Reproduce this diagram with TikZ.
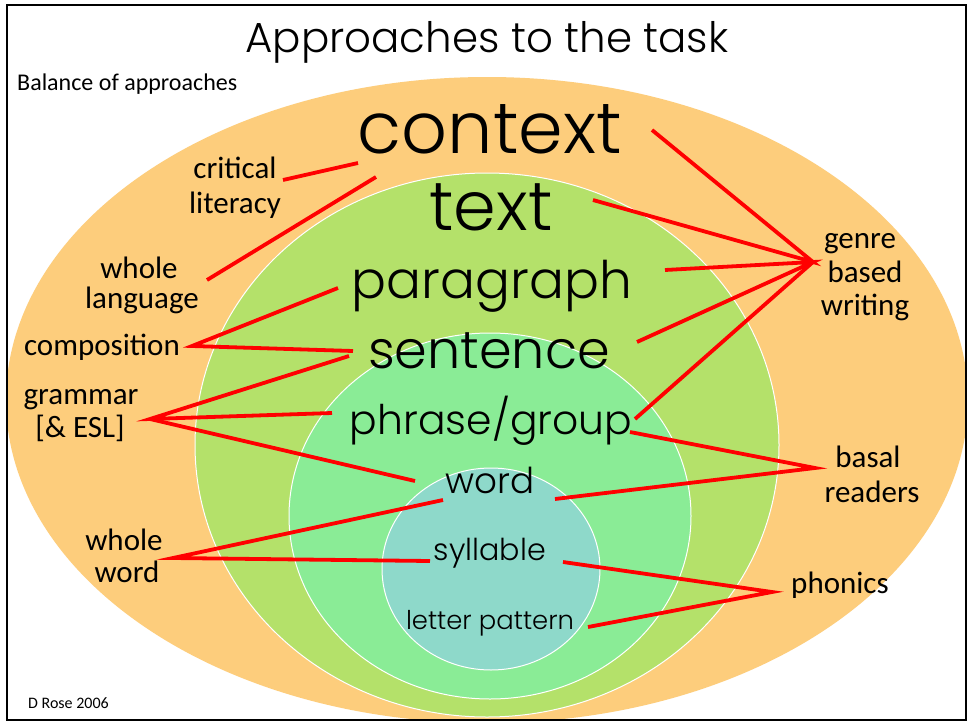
\documentclass[tikz,border=0pt]{standalone}
\usepackage{fontspec}
\usepackage{graphicx}
\setmainfont{Carlito}
\newfontfamily\gothic{Poppins Light}
\definecolor{orangefill}{RGB}{253,205,124}
\definecolor{greenfill}{RGB}{180,225,106}
\definecolor{lgreenfill}{RGB}{138,236,150}
\definecolor{tealfill}{RGB}{142,217,202}
\definecolor{linered}{RGB}{255,0,0}
\tikzset{
  ring/.style={draw=white, line width=1pt},
  word/.style={anchor=base, inner sep=0pt, text=black},
  lbl/.style={anchor=base, inner sep=0pt, font=\fontsize{31}{35}\selectfont},
  redline/.style={draw=linered, line width=3.8pt},
}
\newcommand{\fitw}[2]{\resizebox{#1pt}{!}{\gothic #2}}
\begin{document}
\begin{tikzpicture}[x=1pt,y=-1pt]
\useasboundingbox (0,0) rectangle (969,723);
\fill[white] (0,0) rectangle (969,723);
\begin{scope}
  \clip (8,6) rectangle (965,719);
  \fill[orangefill] (487,400) ellipse [x radius=481pt, y radius=323pt];
\end{scope}
\filldraw[fill=greenfill, ring] (487,445) ellipse [x radius=292pt, y radius=272pt];
\filldraw[fill=lgreenfill, ring] (490,516) ellipse [x radius=201pt, y radius=183pt];
\filldraw[fill=tealfill, ring] (491,569) ellipse [x radius=109pt, y radius=101pt];
\draw[line width=2.2pt] (7,5) rectangle (966,720);

% headings
\node[word] (title) at (487,52) {\fitw{483}{Approaches to the task}};
\node[word, anchor=base west, font=\fontsize{24}{28}\selectfont] (balance) at (17,90) {Balance of approaches};
\node[word, anchor=base west, font=\fontsize{16}{19}\selectfont] (rose) at (28,708) {D Rose 2006};

% levels
\node[word] (context) at (490,153) {\fitw{264}{context}};
\node[word] (text) at (491,230) {\fitw{123}{text}};
\node[word] (paragraph) at (492,298) {\fitw{280}{paragraph}};
\node[word] (sentence) at (489,368) {\fitw{242}{sentence}};
\node[word] (phrase) at (491,434) {\fitw{282}{phrase/group}};
\node[word] (wordn) at (490,493) {\fitw{89}{word}};
\node[word] (syllable) at (490,560) {\fitw{112}{syllable}};
\node[word] (letter) at (490,629) {\fitw{168}{letter pattern}};

% approaches
\node[lbl] (critical1) at (235,178) {critical};
\node[lbl] (critical2) at (235,213) {literacy};
\node[lbl] (wl1) at (139,278) {whole};
\node[lbl] (wl2) at (142,308) {language};
\node[lbl] (composition) at (102,355) {composition};
\node[lbl] (grammar1) at (81,404) {grammar};
\node[lbl] (grammar2) at (80,437) {[\& ESL]};
\node[lbl] (ww1) at (124,550) {whole};
\node[lbl] (ww2) at (127,582) {word};
\node[lbl] (genre1) at (860,248) {genre};
\node[lbl] (genre2) at (865,282) {based};
\node[lbl] (genre3) at (865,315) {writing};
\node[lbl] (basal1) at (868,467) {basal};
\node[lbl] (basal2) at (872,502) {readers};
\node[lbl] (phonics) at (840,593) {phonics};

% connector ends
\coordinate (crit-e) at (283,180);
\coordinate (ctx-l1) at (358,163);
\coordinate (wl-e) at (207,280);
\coordinate (ctx-l2) at (376,177);
\coordinate (comp-h) at (192,346);
\coordinate (para-l) at (338,288);
\coordinate (sent-l1) at (353,351);
\coordinate (gram-h) at (150,419);
\coordinate (sent-l2) at (349,356);
\coordinate (phr-l) at (332,413);
\coordinate (word-l1) at (415,481);
\coordinate (ww-h) at (173,558);
\coordinate (word-l2) at (443,500);
\coordinate (syl-l) at (430,561);
\coordinate (gen-h) at (813,262);
\coordinate (ctx-r) at (652,130);
\coordinate (text-r) at (593,200);
\coordinate (para-r) at (665,270);
\coordinate (sent-r) at (637,342);
\coordinate (phr-r1) at (635,419);
\coordinate (bas-h) at (815,468);
\coordinate (phr-r2) at (630,432);
\coordinate (word-r) at (555,499);
\coordinate (pho-h) at (772,592);
\coordinate (syl-r) at (563,562);
\coordinate (let-r) at (588,627);

\draw[redline] (crit-e) -- (ctx-l1);
\draw[redline] (wl-e) -- (ctx-l2);
\draw[redline] (para-l) -- (comp-h) -- (sent-l1);
\draw[redline] (sent-l2) -- (gram-h) -- (phr-l);
\draw[redline] (gram-h) -- (word-l1);
\draw[redline] (word-l2) -- (ww-h) -- (syl-l);
\draw[redline] (ctx-r) -- (gen-h) -- (text-r);
\draw[redline] (para-r) -- (gen-h) -- (sent-r);
\draw[redline] (gen-h) -- (phr-r1);
\draw[redline] (phr-r2) -- (bas-h) -- (word-r);
\draw[redline] (syl-r) -- (pho-h) -- (let-r);
\end{tikzpicture}
\end{document}
